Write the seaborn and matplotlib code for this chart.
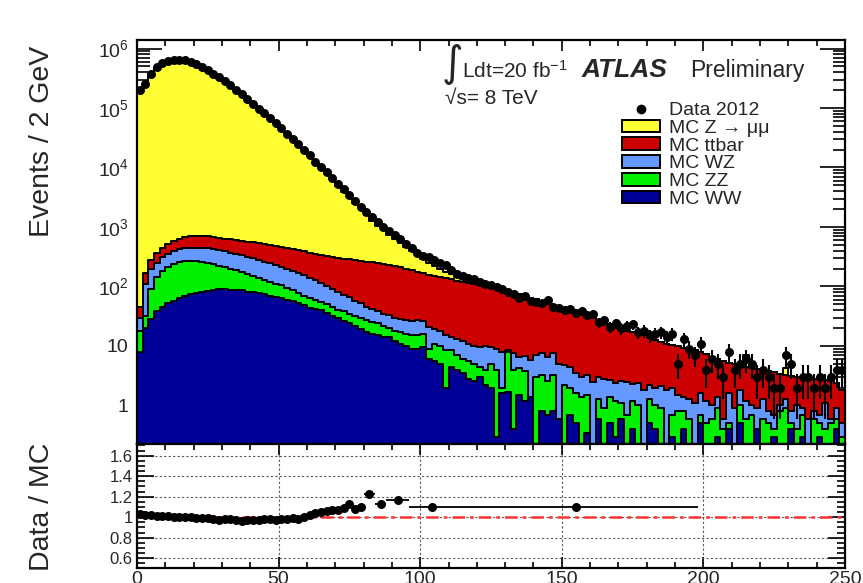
import numpy as np
import pandas as pd
import matplotlib
matplotlib.use("Agg")
import matplotlib.pyplot as plt
import seaborn as sns
from matplotlib.ticker import MultipleLocator, FixedLocator, FuncFormatter, LogLocator, NullFormatter
from matplotlib.lines import Line2D
from matplotlib.patches import Patch

# ---------------- data ----------------
bin_width = 2
x_min, x_max = 0, 250

mc_ww = [8, 20, 28, 38, 45, 52, 58, 64, 70, 74,
         78, 82, 85, 88, 89, 90, 88, 87, 86, 82,
         80, 78, 74, 70, 67, 64, 60, 56, 52, 48,
         44, 42, 40, 36, 32, 29, 26, 24, 22, 19,
         17, 16, 15, 14, 14, 12, 11, 10, 9, 9,
         9.5, 6, 5.5, 5, 2, 4.5, 4, 3.5, 2.8, 2.6,
         3, 2.2, 2, 0.3, 1.6, 1.7, 0.4, 1.5, 1.2, 1.4,
         0, 0.8, 0.7, 0.8, 0.6, 0, 0.7, 0.5, 0, 0.35,
         0, 0.6, 0, 0.5, 0.3, 0.6, 0, 0.4, 0, 0,
         0.5, 0.4, 0, 0, 0.3, 0, 0.4, 0, 0, 0.5,
         0, 0, 0.3, 0, 0.4, 0, 0.5, 0, 0, 0.4,
         0, 0, 0.3, 0, 0, 0.4, 0, 0.3, 0, 0,
         0.3, 0, 0, 0.4, 0]

mc_zz = [10, 12, 62, 107, 140, 163, 182, 191, 195, 196,
         190, 180, 167, 152, 136, 122, 112, 101, 90, 83,
         70, 62, 56, 50, 45, 40, 34, 30, 26, 22,
         20, 17, 14, 14, 13, 12, 12, 11, 10, 11,
         10, 9, 9, 8, 6, 6, 6, 6, 6, 6,
         6.5, 3, 5.5, 5, 6.5, 4, 3, 2.5, 2.7, 2.4,
         1.5, 1.8, 3, 3.7, 0.4, 6.3, 3.6, 2.7, 2.6, 0,
         3, 2.4, 1.9, 2.4, 0, 2.2, 1.3, 1.1, 1.4, 1.15,
         0, 0.7, 0.9, 0.9, 0.9, 0.5, 0.7, 0.8, 1.0, 0,
         0.8, 0.6, 0.9, 0, 0.4, 0.8, 0.4, 0.6, 0, 0.2,
         0.5, 0.6, 0.6, 0.4, 0.1, 0, 0.5, 0.6, 0.7, 0,
         0.6, 0.5, 0.1, 0.8, 0.9, 0.1, 0.4, 0.4, 0, 0.6,
         0.2, 0.4, 0.5, 0.2, 0.3]

mc_wz = [12, 78, 110, 105, 125, 135, 150, 165, 175, 180,
         182, 183, 183, 180, 180, 178, 170, 164, 159, 153,
         150, 140, 132, 125, 116, 108, 106, 99, 92, 85,
         76, 69, 61, 53, 47, 41, 35, 31, 26, 22,
         19, 17, 14, 13, 13, 12, 11, 11, 11, 12,
         10, 12, 8, 8, 6.5, 5.5, 6, 6, 5.5, 5,
         5, 6, 4.5, 5, 6, 0.5, 3.5, 2.3, 3, 4.4,
         4, 4.3, 3.9, 4.3, 4.4, 2.6, 2.5, 1.9, 1.6, 1.7,
         2.5, 1.7, 1.9, 1.3, 1.2, 1.5, 1.8, 1.1, 1.4, 1.8,
         0.9, 1.0, 1.2, 1.8, 1.3, 0.7, 0.6, 0.7, 1.1, 0.9,
         0.7, 0.4, 0.5, 0.2, 1.1, 0.9, 0.8, 0.6, 0.3, 0.5,
         0.7, 0.3, 0.3, 0.2, 0.4, 0.3, 0.6, 0.2, 0.6, 0.2,
         0.2, 0.7, 0.1, 0.3, 0.2]

mc_ttbar = [15, 60, 80, 110, 130, 170, 190, 220, 240, 250,
            260, 260, 260, 260, 255, 250, 250, 248, 250, 247,
            250, 250, 248, 245, 242, 243, 237, 235, 235, 235,
            232, 227, 225, 225, 224, 223, 222, 219, 220, 218,
            216, 211, 207, 201, 195, 188, 182, 173, 164, 151,
            140, 134, 131, 126, 123, 118, 113, 109, 105, 101,
            96.5, 92, 87.5, 83, 79, 73.5, 70.5, 66.5, 62, 59,
            54, 49.5, 45.5, 40.5, 40, 37, 34.5, 32.5, 31, 27.8,
            26.5, 24, 22.2, 20.3, 18.6, 16.9, 15.5, 14.7, 13.6, 13.2,
            11.8, 10.6, 9.7, 9.2, 8.5, 8.3, 7.8, 7.5, 7.4, 6.2,
            6.0, 5.6, 4.6, 4.9, 3.5, 4.0, 2.9, 3.3, 3.3, 3.2,
            2.7, 3.0, 2.9, 2.4, 1.9, 2.3, 2.0, 2.0, 2.25, 2.0,
            2.05, 1.6, 2.0, 1.5, 1.3]

mc_zmumu = [194000, 245000, 372000, 475000, 554000, 613000, 644000, 644000, 629000, 589000,
            545000, 494000, 444000, 387000, 340000, 285000, 244000, 210000, 177000, 145000,
            120000, 101000, 82000, 69000, 57300, 46500, 37300, 29900, 24600, 19600,
            15300, 11900, 9300, 7300, 5750, 4550, 3600, 2850, 2250, 1780,
            1300, 1020, 810, 640, 510, 405, 320, 255, 205, 160,
            122, 95, 72, 55, 40, 28, 18, 11, 7, 5,
            3, 4, 3, 1.2, 0.8, 0.6, 0.5, 0.4, 0.3, 0.3,
            0.2, 0.2, 2.5, 0.2, 0.1, 0.1, 2, 0, 0, 0,
            0, 0, 0, 0, 0, 0, 0, 0, 0, 0,
            0, 0, 0, 0, 0, 0, 0, 0, 0, 0,
            0, 0, 0, 0, 0, 0, 0, 2.5, 0, 0,
            0, 0, 0, 0, 1.0, 0, 0, 0, 0, 0,
            0, 0, 0, 0, 0]

data_2012 = [200000, 250000, 380000, 480000, 560000, 620000, 645000, 645000, 630000, 590000,
             540000, 490000, 440000, 380000, 330000, 280000, 240000, 204000, 170000, 141000,
             117000, 98000, 81000, 68000, 56000, 46000, 37000, 30000, 24500, 20000,
             16000, 12600, 10200, 8300, 6600, 5200, 4300, 3400, 2700, 2200,
             1780, 1450, 1200, 1000, 850, 725, 620, 525, 450, 370,
             330, 315, 280, 250, 230, 190, 165, 148, 138, 132,
             120, 112, 104, 98, 92, 80, 74, 64, 68, 58,
             55, 52, 60, 46, 44, 40, 42, 36, 38, 33,
             34, 25, 27, 21, 24, 20, 22, 23, 17, 18,
             15, 16, 17, 14, 16, 5, 13, 9, 7, 11,
             4, 6, 5, 3, 8, 4, 5, 6, 5, 3,
             4, 3, 2, 2, 7, 5, 2, 3, 3, 2,
             3, 2, 3, 4, 4]

# ratio panel (Data / MC), rebinned as in the reference
ratio_x = [1, 3, 5, 7, 9, 11, 13, 15, 17, 19,
           21, 23, 25, 27, 29, 31, 33, 35, 37, 39,
           41, 43, 45, 47, 49, 51, 53, 55, 57, 59,
           61, 63, 65, 67, 69, 71, 73, 75, 77, 79,
           82, 86, 92, 104, 155]
ratio_xerr = [1] * 40 + [2, 2, 4, 8, 43]
ratio_y = [1.03, 1.02, 1.02, 1.01, 1.01, 1.01, 1.00, 1.00, 1.00, 1.00,
           0.99, 0.99, 0.99, 0.98, 0.97, 0.98, 0.98, 0.97, 0.96, 0.97,
           0.97, 0.97, 0.98, 0.98, 0.97, 0.98, 0.98, 0.99, 0.98, 1.00,
           1.02, 1.04, 1.05, 1.06, 1.07, 1.07, 1.09, 1.13, 1.08, 1.10,
           1.23, 1.13, 1.17, 1.10, 1.10]

processes = ["MC Z \u2192 \u03bc\u03bc", "MC ttbar", "MC WZ", "MC ZZ", "MC WW"]
proc_colors = ["#ffff33", "#cc0000", "#6699ff", "#00f000", "#000099"]

for arr in (mc_ww, mc_zz, mc_wz, mc_ttbar, mc_zmumu, data_2012):
    assert len(arr) == 125, len(arr)

n_bins = len(data_2012)
centers = x_min + bin_width * (np.arange(n_bins) + 0.5)

# ---------------- style ----------------
sns.set_style("ticks")
plt.rcParams["font.family"] = ["Liberation Sans", "DejaVu Sans"]
plt.rcParams["mathtext.fontset"] = "custom"
plt.rcParams["mathtext.rm"] = "Liberation Sans"
plt.rcParams["mathtext.it"] = "Liberation Sans:italic"
plt.rcParams["mathtext.default"] = "regular"

W, H = 863, 583
fig = plt.figure(figsize=(W / 100, H / 100), dpi=100)
L, R = 137, 845
ax = fig.add_axes([L / W, 1 - 444 / H, (R - L) / W, (444 - 40) / H])
ax2 = fig.add_axes([L / W, 1 - 568 / H, (R - L) / W, (568 - 444) / H], sharex=ax)

# ---------------- stacked MC ----------------
frames = []
for name, vals in zip(processes, [mc_zmumu, mc_ttbar, mc_wz, mc_zz, mc_ww]):
    frames.append(pd.DataFrame({"pT": centers, "w": np.asarray(vals, float), "process": name}))
df = pd.concat(frames, ignore_index=True)

sns.histplot(data=df, x="pT", weights="w", hue="process", hue_order=processes,
             palette=dict(zip(processes, proc_colors)), multiple="stack",
             binwidth=bin_width, binrange=(x_min, x_max),
             element="step", fill=True, alpha=1, edgecolor="black", linewidth=1.4,
             legend=False, ax=ax)

# data points
data_arr = np.array(data_2012, dtype=float)
ax.errorbar(centers, data_arr, yerr=np.sqrt(data_arr), fmt="none", ecolor="black",
            elinewidth=1.5, zorder=5)
sns.scatterplot(x=centers, y=data_arr, color="black", s=42, linewidth=0, zorder=6,
                legend=False, ax=ax)

ax.set_yscale("log")
ax.set_xlim(x_min, x_max)
ax.set_ylim(0.225, 1.39e6)
ax.set_xlabel("")
ax.set_ylabel("")

def log_fmt(v, pos):
    e = int(round(np.log10(v)))
    if e == 0:
        return "1"
    if e == 1:
        return "10"
    return r"$10^{%d}$" % e

ax.yaxis.set_major_locator(LogLocator(base=10, numticks=20))
ax.yaxis.set_minor_locator(LogLocator(base=10, subs=np.arange(2, 10), numticks=50))
ax.yaxis.set_major_formatter(FuncFormatter(log_fmt))
ax.yaxis.set_minor_formatter(NullFormatter())
ax.xaxis.set_major_locator(MultipleLocator(50))
ax.xaxis.set_minor_locator(MultipleLocator(10))

ax.tick_params(axis="both", which="both", direction="in", top=True, right=True,
               bottom=True, left=True, width=1.2, color="black")
ax.tick_params(axis="y", which="major", length=18, labelsize=14, pad=6)
ax.tick_params(axis="y", which="minor", length=9)
ax.tick_params(axis="x", which="major", length=8)
ax.tick_params(axis="x", which="minor", length=4)
ax.tick_params(labelbottom=False)

for a in (ax, ax2):
    for s in a.spines.values():
        s.set_visible(True)
        s.set_linewidth(1.6)
        s.set_color("black")

# legend
handles = [Line2D([], [], marker="o", color="black", linestyle="none", markersize=6)]
handles += [Patch(facecolor=c, edgecolor="black", linewidth=1.4) for c in proc_colors]
labels = ["Data 2012"] + processes
ax.legend(handles, labels, loc="upper left", bbox_to_anchor=(622 / W, 1 - 102 / H),
          bbox_transform=fig.transFigure, frameon=False, fontsize=14,
          handlelength=1.95, handleheight=0.62, handletextpad=0.45,
          labelspacing=0.03, borderpad=0, borderaxespad=0)

# labels
fig.text(452 / W, 1 - 64 / H, "\u222b", fontsize=30, family="DejaVu Sans",
         ha="center", va="center")
fig.text(462 / W, 1 - 78 / H, r"Ldt=20 fb$^{-1}$", fontsize=15, va="baseline")
fig.text(445 / W, 1 - 104 / H, "\u221as= 8 TeV", fontsize=15, va="baseline")
fig.text(582 / W, 1 - 77 / H, "ATLAS", fontsize=19, weight="bold", style="italic",
         va="baseline")
fig.text(690 / W, 1 - 77 / H, "Preliminary", fontsize=16.5, va="baseline")

fig.text(42 / W, 1 - 141 / H, "Events / 2 GeV", rotation=90, fontsize=20.5,
         ha="center", va="center")
fig.text(42 / W, 1 - 507 / H, "Data / MC", rotation=90, fontsize=20.5,
         ha="center", va="center")

# ---------------- ratio panel ----------------
ax2.grid(True, which="major", axis="both", linestyle=(0, (2, 2)), color="0.35",
         linewidth=0.8)
ax2.axhline(1.0, color="#ff3333", linestyle=(0, (5, 2, 1.5, 2)), linewidth=1.8, zorder=3)
ax2.errorbar(ratio_x, ratio_y, xerr=ratio_xerr, fmt="none", ecolor="black",
             elinewidth=1.3, zorder=4)
sns.scatterplot(x=ratio_x, y=ratio_y, color="black", s=42, linewidth=0, zorder=5,
                legend=False, ax=ax2)
ax2.set_xlim(x_min, x_max)
ax2.set_ylim(0.505, 1.714)
ax2.yaxis.set_major_locator(FixedLocator([0.6, 0.8, 1.0, 1.2, 1.4, 1.6]))
ax2.yaxis.set_minor_locator(MultipleLocator(0.05))
ax2.yaxis.set_major_formatter(FuncFormatter(lambda v, p: "%g" % round(v, 2)))
ax2.tick_params(axis="both", which="both", direction="in", top=True, right=True,
                bottom=True, left=True, width=1.2, color="black")
ax2.tick_params(axis="y", which="major", length=12, labelsize=12, pad=3)
ax2.tick_params(axis="y", which="minor", length=6)
ax2.tick_params(axis="x", which="major", length=8, labelsize=14, pad=2)
ax2.tick_params(axis="x", which="minor", length=4)
ax2.set_xlabel("")
ax2.set_ylabel("")

fig.savefig("out.png", dpi=100)
